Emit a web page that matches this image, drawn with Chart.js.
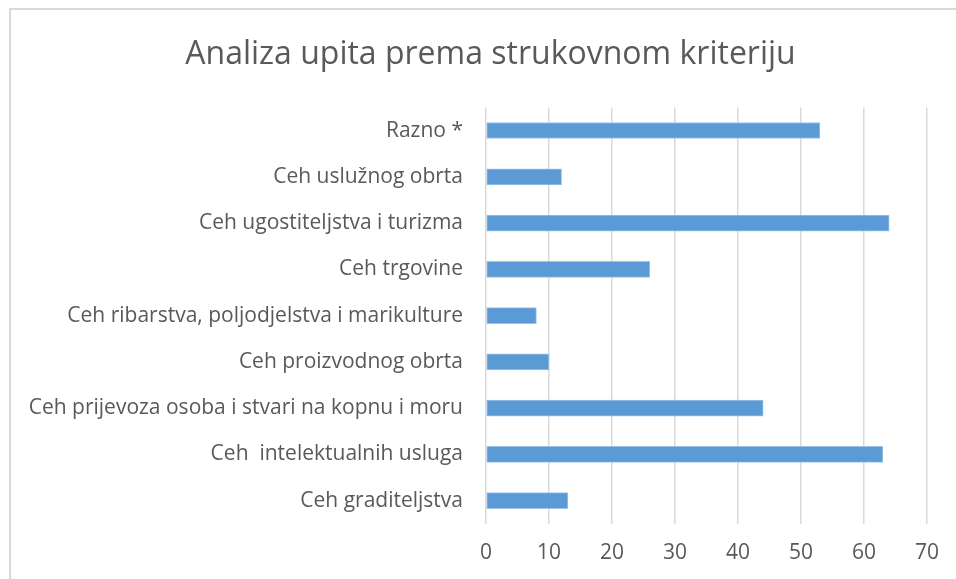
<!DOCTYPE html>
<html>
<head>
<meta charset="utf-8">
<script src="https://cdn.jsdelivr.net/npm/chart.js@4"></script>
<style>
  body { margin: 0; background: #fff; }
  #okvir {
    position: absolute; left: 9px; top: 8px; right: 0; bottom: 0;
    border-left: 2px solid #d9d9d9; border-top: 2px solid #d9d9d9;
  }
  #wrap { position: absolute; left: 0; top: 0; width: 956px; height: 579px; }
</style>
</head>
<body>
<div id="okvir"></div>
<div id="wrap"><canvas id="chart"></canvas></div>
<script>
// Podaci (odozgo prema dolje)
const kategorije = [
    'Razno *',
    'Ceh uslužnog obrta',
    'Ceh ugostiteljstva i turizma',
    'Ceh trgovine',
    'Ceh ribarstva, poljodjelstva i marikulture',
    'Ceh proizvodnog obrta',
    'Ceh prijevoza osoba i stvari na kopnu i moru',
    'Ceh  intelektualnih usluga',
    'Ceh graditeljstva'
];
const brojUpita = [53, 12, 64, 26, 8, 10, 44, 63, 13];
const naslov = 'Analiza upita prema strukovnom kriteriju';

const tekstBoja = '#595959';
const fontObitelj = '"Open Sans", "Liberation Sans", sans-serif';

// Naslov je u originalu malo desno od sredine
const pomakNaslova = {
    id: 'pomakNaslova',
    afterLayout(chart) {
        if (chart.titleBlock) chart.titleBlock.left += 20;
    }
};

const ctx = document.getElementById('chart').getContext('2d');
const chart = new Chart(ctx, {
    type: 'bar',
    data: {
        labels: kategorije,
        datasets: [{
            data: brojUpita,
            backgroundColor: '#5b9bd5',
            borderColor: '#9dc3e6',
            borderWidth: 1,
            borderSkipped: false,
            barThickness: 16
        }]
    },
    options: {
        indexAxis: 'y',
        responsive: true,
        maintainAspectRatio: false,
        animation: false,
        layout: { padding: { left: 20, right: 15, top: 0, bottom: -4 } },
        plugins: {
            legend: { display: false },
            tooltip: { enabled: false },
            title: {
                display: true,
                text: naslov,
                color: tekstBoja,
                font: { family: fontObitelj, size: 32, weight: 'normal' },
                padding: { top: 36, bottom: 33 }
            }
        },
        scales: {
            x: {
                min: 0,
                max: 70,
                ticks: {
                    stepSize: 10,
                    color: tekstBoja,
                    padding: 17,
                    font: { family: fontObitelj, size: 21 }
                },
                grid: { color: '#d9d9d9', lineWidth: 1.5, drawTicks: false },
                border: { display: false }
            },
            y: {
                afterFit: (scale) => { scale.width = 466; },
                ticks: {
                    color: tekstBoja,
                    padding: 23,
                    font: { family: fontObitelj, size: 21 }
                },
                grid: { display: false, drawTicks: false },
                border: { display: false }
            }
        }
    },
    plugins: [pomakNaslova]
});
</script>
</body>
</html>
